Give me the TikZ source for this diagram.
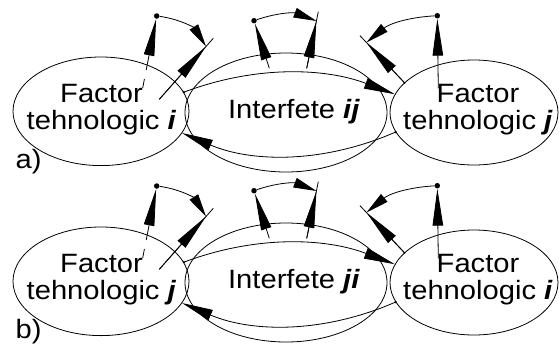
\documentclass[tikz,border=0pt]{standalone}
\usepackage{fontspec}
\setmainfont{Liberation Sans}[FakeStretch=1.1]
\usetikzlibrary{arrows.meta,shapes.geometric}
\tikzset{
  ell/.style={draw, ellipse, inner sep=0pt, line width=0.8pt},
  lbl/.style={align=center, inner sep=0pt, font=\fontsize{26.5}{27}\selectfont},
  dotn/.style={circle, fill, inner sep=0pt, minimum size=5.5pt},
  sdot/.style={circle, fill, inner sep=0pt, minimum size=2.6pt},
  ln/.style={line width=0.8pt},
  vec/.style={ln, -{Triangle[length=37pt,width=10.5pt]}},
  rot/.style={ln, -{Triangle[length=23pt,width=10pt]}},
  conn/.style={ln, -{Triangle[length=31pt,width=11pt]}},
}
\newcommand\bi[1]{\textbf{\textit{#1}}}
\newcommand\fpanel[6]{%
\begin{scope}[shift={(0,#2)}]
  \node[ell, minimum width=176pt, minimum height=108.6pt] (L#1) at (101,111.3) {};
  \node[ell, minimum width=202pt, minimum height=119pt] (M#1) at (286,112.5) {};
  \node[ell, minimum width=168pt, minimum height=105pt] (R#1) at (474,112.5) {};
  \node[lbl] (Lt#1) at (101.5,110.1) {Factor\\tehnologic \bi{#3}};
  \node[lbl] (Mt#1) at (294,111.5) {Interfete \bi{#4}};
  \node[lbl] (Rt#1) at (478,110.1) {Factor\\tehnologic \bi{#5}};
  \node[lbl, anchor=base west] (P#1) at (15.5,168) {#6)};
  % connectors between factor nodes
  \node[sdot] (ca#1) at (L#1.13) {};
  \node[sdot] (cb#1) at (R#1.194) {};
  \draw[conn] (ca#1.center) .. controls +(71,-26.7) and +(-71,-26.7) .. (R#1.167);
  \draw[conn] (cb#1.center) .. controls +(-71,31) and +(71,30) .. (L#1.345);
  % left group
  \node[dotn] (d1#1) at (156.7,16) {};
  \coordinate (s1#1) at (142.7,88);
  \coordinate (g1#1) at (144.4,79);
  \coordinate (g2#1) at (146.2,70);
  \draw[ln] (s1#1) -- (g1#1);
  \draw[vec] (g2#1) -- (d1#1);
  \coordinate (s2#1) at (159.3,99.3);
  \coordinate (t2#1) at (213.3,38.3);
  \coordinate (p1#1) at (206,46.5);
  \draw[ln] (s2#1) -- (t2#1);
  \draw[vec] (s2#1) -- (p1#1);
  \draw[rot] (d1#1) to[bend left=25] (p1#1);
  % middle group
  \node[dotn] (d2#1) at (254,20.7) {};
  \coordinate (s3#1) at (269.3,68.3);
  \draw[vec] (s3#1) -- (d2#1);
  \coordinate (s4#1) at (306.7,68.3);
  \coordinate (t4#1) at (318.3,11.7);
  \coordinate (p2#1) at (316.4,21);
  \draw[ln] (s4#1) -- (t4#1);
  \draw[vec] (s4#1) -- (p2#1);
  \draw[rot] (d2#1) to[bend left=20] (p2#1);
  % right group
  \node[dotn] (d3#1) at (437.3,15.7) {};
  \coordinate (s5#1) at (438.3,88.3);
  \draw[vec] (s5#1) -- (d3#1);
  \coordinate (s6#1) at (405,83.3);
  \coordinate (t6#1) at (360,35.7);
  \coordinate (p3#1) at (366.5,42.5);
  \draw[ln] (s6#1) -- (t6#1);
  \draw[vec] (s6#1) -- (p3#1);
  \draw[rot] (d3#1) to[bend right=18] (p3#1);
\end{scope}}
\begin{document}
\begin{tikzpicture}[x=1pt,y=-1pt]
  \useasboundingbox (0,0) rectangle (559,346);
  \fpanel{a}{0}{i}{ij}{j}{a}
  \fpanel{b}{170}{j}{ji}{i}{b}
\end{tikzpicture}
\end{document}
